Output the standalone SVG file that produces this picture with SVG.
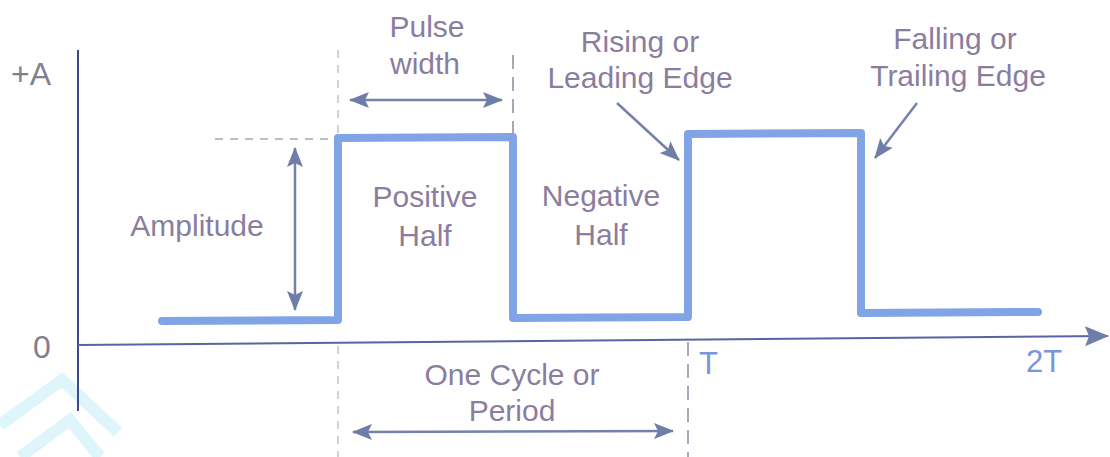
<svg xmlns="http://www.w3.org/2000/svg" width="1110" height="457" viewBox="0 0 1110 457">
<defs>
<style>
.lbl{font-family:"Liberation Sans",Arial,sans-serif;font-size:30px;fill:#8a7d9e;text-anchor:middle}
.ax{font-family:"Liberation Sans",Arial,sans-serif;font-size:32px;fill:#80808e}
.tl{font-family:"Liberation Sans",Arial,sans-serif;font-size:31px;fill:#7896dc}
.arr{stroke:#7482aa;stroke-width:2.5;fill:none}
.wave{stroke:#80a4e6;stroke-width:8;fill:none;stroke-linejoin:round;stroke-linecap:round}
.dl{stroke:#c4c4c8;stroke-width:1.5;stroke-dasharray:8 7;fill:none}
.dd{stroke:#8a8aa0;stroke-width:1.5;stroke-dasharray:14 8;fill:none}
.wm{stroke:#d2f2fa;stroke-width:12;fill:none;opacity:0.75}
</style>
<marker id="ah" viewBox="0 0 20 16" refX="19" refY="8" markerWidth="20" markerHeight="16" markerUnits="userSpaceOnUse" orient="auto-start-reverse">
<path d="M0,0 L20,8 L0,16 L4,8 Z" fill="#6f7ea8"/>
</marker>
<marker id="axh" viewBox="0 0 24 20" refX="23" refY="10" markerWidth="24" markerHeight="20" markerUnits="userSpaceOnUse" orient="auto">
<path d="M0,0 L24,10 L0,20 L4,10 Z" fill="#6f7ea8"/>
</marker>
</defs>
<rect width="1110" height="457" fill="#ffffff"/>
<g id="watermark">
<path class="wm" d="M0,425 L62,380 L118,432"/>
<path class="wm" d="M20,457 L70,420 L100,457" stroke-width="9"/>
</g>
<g id="guides">
<line class="dl" x1="338" y1="50" x2="338" y2="133"/>
<line class="dd" x1="513" y1="55" x2="513" y2="133"/>
<line class="dl" x1="215" y1="139" x2="333" y2="139" style="stroke:#a8a8b0"/>
<line class="dl" x1="338" y1="346" x2="338" y2="457"/>
<line class="dd" x1="688" y1="342" x2="688" y2="457"/>
</g>
<g id="axes">
<line x1="78" y1="50" x2="78" y2="411" stroke="#3d4a92" stroke-width="2"/>
<line x1="78" y1="345" x2="1108" y2="336" stroke="#5a64a4" stroke-width="2" marker-end="url(#axh)"/>
</g>
<g id="waveform">
<polyline class="wave" points="162,321 338,320 338,138 513,137 513,318 688,317 688,134 861,133 861,313 1038,312"/>
</g>
<g id="connectors">
<line class="arr" x1="350" y1="100" x2="502" y2="100" marker-start="url(#ah)" marker-end="url(#ah)"/>
<line class="arr" x1="295" y1="148" x2="295" y2="310" marker-start="url(#ah)" marker-end="url(#ah)"/>
<line class="arr" x1="353" y1="432" x2="673" y2="431" marker-start="url(#ah)" marker-end="url(#ah)"/>
<line class="arr" x1="617" y1="103" x2="679" y2="160" marker-end="url(#ah)"/>
<line class="arr" x1="917" y1="103" x2="875" y2="158" marker-end="url(#ah)"/>
</g>
<g id="labels">
<text class="ax" x="11" y="85">+A</text>
<text class="ax" x="33" y="358">0</text>
<text class="lbl" x="427" y="37">Pulse</text>
<text class="lbl" x="425" y="74">width</text>
<text class="lbl" x="640" y="52">Rising or</text>
<text class="lbl" x="640" y="88">Leading Edge</text>
<text class="lbl" x="955" y="49">Falling or</text>
<text class="lbl" x="958" y="86">Trailing Edge</text>
<text class="lbl" x="197" y="236">Amplitude</text>
<text class="lbl" x="425" y="207">Positive</text>
<text class="lbl" x="425" y="246">Half</text>
<text class="lbl" x="601" y="206">Negative</text>
<text class="lbl" x="601" y="245">Half</text>
<text class="lbl" x="512" y="385">One Cycle or</text>
<text class="lbl" x="512" y="421">Period</text>
<text class="tl" x="699" y="374">T</text>
<text class="tl" x="1026" y="372">2T</text>
</g>
</svg>
